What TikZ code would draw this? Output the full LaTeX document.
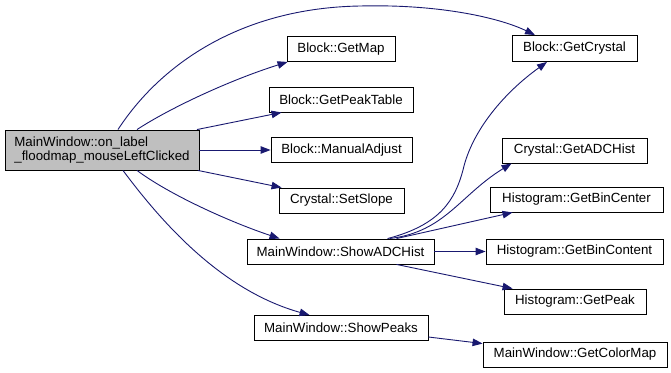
\documentclass[tikz,border=0pt]{standalone}
\usepackage{fontspec}
\setmainfont{Liberation Sans}
\usetikzlibrary{arrows.meta}
\definecolor{edgeblue}{HTML}{191970}
\definecolor{rootgray}{HTML}{BFBFBF}
\begin{document}
\begin{tikzpicture}[x=1pt,y=-1pt,
  fn/.style={draw=black, line width=0.9pt, fill=white, inner sep=0pt,
             minimum height=25pt, font=\fontsize{13.3}{14}\selectfont},
  root/.style={fn, fill=rootgray, align=left, minimum height=40pt},
  call/.style={draw=edgeblue, line width=0.9pt,
               -{Triangle[length=10pt,width=7.5pt]}},
]
\useasboundingbox (0,0) rectangle (671,372);

% caller
\node[root, minimum width=194pt] (main) at (102,150)
  {MainWindow::on\_label\\\_floodmap\_mouseLeftClicked};

% direct callees
\node[fn, minimum width=108pt] (getmap)    at (341,49)    {Block::GetMap};
\node[fn, minimum width=144pt] (peaktable) at (341,99.5)  {Block::GetPeakTable};
\node[fn, minimum width=141pt] (manual)    at (341.5,150) {Block::ManualAdjust};
\node[fn, minimum width=125pt] (setslope)  at (341.5,200.5) {Crystal::SetSlope};
\node[fn, minimum width=187pt] (adchist)   at (340.5,251.5) {MainWindow::ShowADCHist};
\node[fn, minimum width=174pt] (showpeaks) at (341,328)   {MainWindow::ShowPeaks};

% second level
\node[fn, minimum width=125pt, minimum height=26pt] (crystal) at (574.5,48.5) {Block::GetCrystal};
\node[fn, minimum width=145pt] (crystaladc) at (574.5,150.5) {Crystal::GetADCHist};
\node[fn, minimum width=173pt] (bincenter)  at (576.5,199.5) {Histogram::GetBinCenter};
\node[fn, minimum width=177pt] (bincontent) at (574.5,251.5) {Histogram::GetBinContent};
\node[fn, minimum width=142pt] (getpeak)    at (575,301.5)   {Histogram::GetPeak};
\node[fn, minimum width=184pt] (colormap)   at (575,354.5)   {MainWindow::GetColorMap};

% calls from the caller
\draw[call] ([xshift=16pt]main.north) .. controls (160,65) and (240,8) .. (360,6)
  .. controls (440,4) and (500,18) .. ([xshift=-39.5pt]crystal.north);
\draw[call] ([xshift=35pt]main.north) .. controls (170,108) and (230,80) .. ([xshift=1pt]getmap.south west);
\draw[call] ([xshift=95pt]main.north) -- ([xshift=13pt]peaktable.south west);
\draw[call] (main.east) -- (manual.west);
\draw[call] ([xshift=96pt]main.south) -- ([xshift=3pt]setslope.north west);
\draw[call] ([xshift=35pt]main.south) .. controls (170,195) and (230,222) .. ([xshift=33pt]adchist.north west);
\draw[call] ([xshift=21pt]main.south) .. controls (160,220) and (220,290) .. ([xshift=56pt]showpeaks.north west);

% calls from ShowADCHist
\draw[call] ([xshift=141pt]adchist.north west) .. controls (440,225) and (455,200) .. (463,170)
  .. controls (472,130) and (505,92) .. ([xshift=-27.5pt]crystal.south);
\draw[call] ([xshift=143pt]adchist.north west) .. controls (445,232) and (460,195) .. ([xshift=10pt]crystaladc.south west);
\draw[call] ([xshift=150pt]adchist.north west) -- ([xshift=23pt]bincenter.south west);
\draw[call] (adchist.east) -- (bincontent.west);
\draw[call] ([xshift=150pt]adchist.south west) -- ([xshift=9pt]getpeak.north west);

% call from ShowPeaks
\draw[call] ([yshift=-9pt]showpeaks.east) -- ([yshift=-2pt]colormap.north west);
\end{tikzpicture}
\end{document}
